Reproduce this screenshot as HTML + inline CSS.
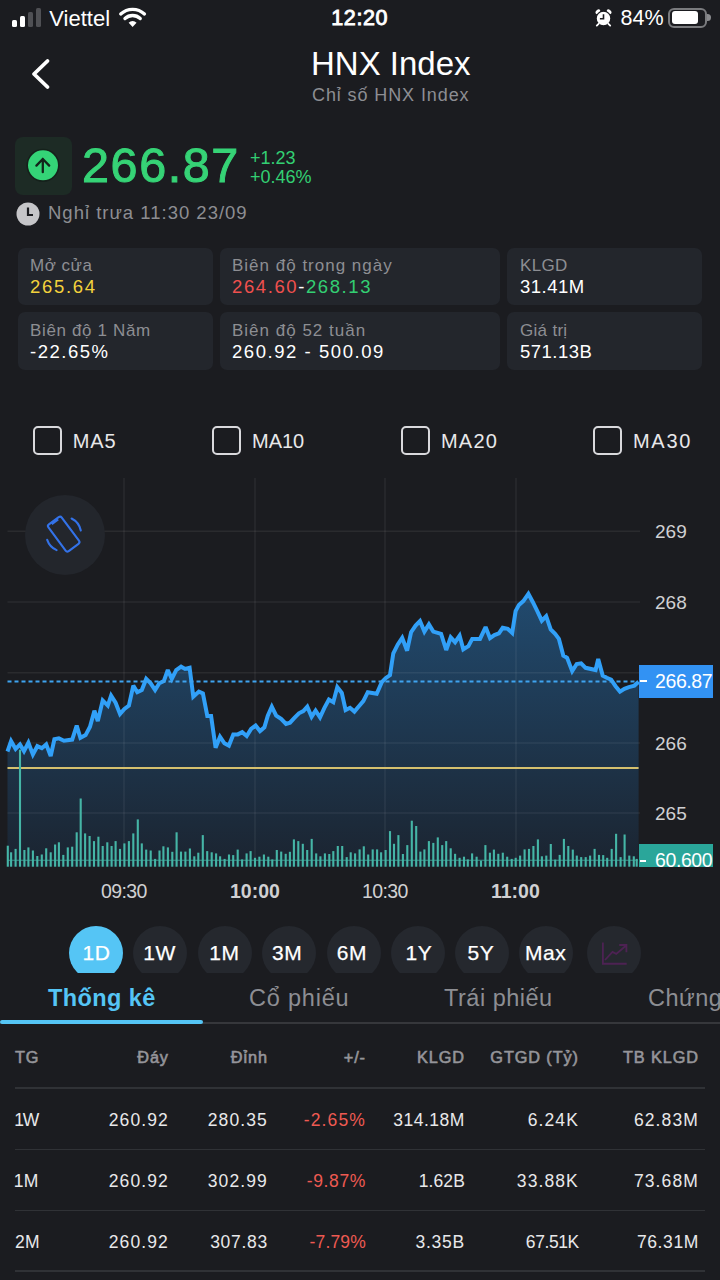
<!DOCTYPE html>
<html><head><meta charset="utf-8">
<style>
*{margin:0;padding:0;box-sizing:border-box}
html,body{width:720px;height:1280px;overflow:hidden;background:#1b1c20}
body{position:relative;font-family:"Liberation Sans",sans-serif;color:#fff}
.t{position:absolute;white-space:nowrap;line-height:1}
.card{position:absolute;background:#23262c;border-radius:7px}
.lbl{color:#8d8e93}
.cb{position:absolute;width:29px;height:29px;border:2px solid #d9d9dc;border-radius:5px}
.circ{position:absolute;top:926px;width:54px;height:54px;border-radius:27px;background:#25282e}
.btxt{position:absolute;top:0;width:54px;text-align:center;font-size:21px;line-height:1}
.th{position:absolute;font-size:16.3px;font-weight:400;-webkit-text-stroke:0.6px #95959a;letter-spacing:0.9px;color:#95959a;line-height:1;white-space:nowrap}
.td{position:absolute;font-size:17.5px;letter-spacing:1.1px;color:#e8e8ea;line-height:1;white-space:nowrap}
.r{text-align:right}
.hl{position:absolute;left:15px;width:690px;height:1.6px;background:#303236}
</style></head>
<body>
<!-- status bar -->
<div style="position:absolute;left:12px;top:20px;width:5.2px;height:7px;background:#fff;border-radius:1.5px"></div>
<div style="position:absolute;left:20px;top:16px;width:5.2px;height:11px;background:#fff;border-radius:1.5px"></div>
<div style="position:absolute;left:28px;top:12.3px;width:5.2px;height:14.7px;background:#4f5054;border-radius:1.5px"></div>
<div style="position:absolute;left:36px;top:8.3px;width:5.2px;height:18.7px;background:#4f5054;border-radius:1.5px"></div>
<div class="t" style="left:49.3px;top:8.1px;font-size:22px">Viettel</div>
<svg style="position:absolute;left:112px;top:2px" width="40" height="30" viewBox="0 0 40 30">
<path d="M20.6 25.0 L16.64 20.74 A5.6 5.6 0 0 1 24.56 20.74 Z" fill="#fff"/>
<path d="M8.73 11.97 A17.4 17.4 0 0 1 32.47 11.97" stroke="#fff" stroke-width="3.3" fill="none" stroke-linecap="round"/>
<path d="M12.96 16.51 A11.2 11.2 0 0 1 28.24 16.51" stroke="#fff" stroke-width="3.3" fill="none" stroke-linecap="round"/>
</svg>
<div class="t" style="left:331.3px;top:8px;font-size:21.5px;font-weight:400;-webkit-text-stroke:0.9px #fff;letter-spacing:0.6px">12:20</div>
<svg style="position:absolute;left:594px;top:8px" width="20" height="20" viewBox="0 0 20 20">
<ellipse cx="3.9" cy="3.7" rx="2.8" ry="1.9" transform="rotate(-40 3.9 3.7)" fill="#fff"/>
<ellipse cx="15.1" cy="3.7" rx="2.8" ry="1.9" transform="rotate(40 15.1 3.7)" fill="#fff"/>
<circle cx="9.5" cy="10.6" r="7.4" fill="#fff" stroke="#1b1c20" stroke-width="1.3"/>
<path d="M4.6 15.8 L2.8 17.6 M14.4 15.8 L16.2 17.6" stroke="#fff" stroke-width="1.8" stroke-linecap="round"/>
<path d="M9.5 6.2 V10.8 H5.9" stroke="#1b1c20" stroke-width="1.6" fill="none"/>
</svg>
<div class="t" style="left:620.5px;top:7.6px;font-size:21.5px">84%</div>
<div style="position:absolute;left:668px;top:7.5px;width:38.5px;height:20px;border:2.2px solid #7a7b7e;border-radius:6px"></div>
<div style="position:absolute;left:671.7px;top:11.2px;width:26.5px;height:13px;background:#fff;border-radius:3px"></div>
<div style="position:absolute;left:707px;top:14.3px;width:3.5px;height:7px;background:#8a8b8e;border-radius:0 4px 4px 0"></div>

<!-- header -->
<svg style="position:absolute;left:28px;top:56px" width="26" height="36" viewBox="0 0 26 36">
<path d="M19.5 5 L6 18 L19.5 31" stroke="#fff" stroke-width="3.8" fill="none" stroke-linecap="round" stroke-linejoin="round"/>
</svg>
<div class="t" style="left:311px;top:47.1px;font-size:33px">HNX Index</div>
<div class="t lbl" style="left:312px;top:86px;font-size:18px;letter-spacing:0.9px">Chỉ số HNX Index</div>

<!-- price -->
<div style="position:absolute;left:14.5px;top:137px;width:57px;height:57.5px;background:#1d2b25;border-radius:8px"></div>
<svg style="position:absolute;left:26px;top:148px" width="34" height="34" viewBox="0 0 34 34">
<circle cx="17" cy="17.3" r="16.6" fill="#15211b"/>
<circle cx="17" cy="17.3" r="15" fill="#34d477"/>
<path d="M16.8 24.2 V11 M10.4 17.6 L16.8 11 L23.2 17.6" stroke="#12241a" stroke-width="2.3" fill="none" stroke-linecap="round" stroke-linejoin="round"/>
</svg>
<div class="t" style="left:82px;top:140.6px;font-size:48.5px;font-weight:400;color:#36d376;-webkit-text-stroke:1px #36d376;letter-spacing:1.6px">266.87</div>
<div class="t" style="left:250px;top:148.6px;font-size:18px;color:#33cf73">+1.23</div>
<div class="t" style="left:250px;top:167.5px;font-size:18px;color:#33cf73">+0.46%</div>
<svg style="position:absolute;left:16px;top:202px" width="24" height="24" viewBox="0 0 24 24">
<circle cx="12" cy="12" r="11.5" fill="#c6c6c9"/>
<path d="M12 5.5 V13 H17" stroke="#1b1c20" stroke-width="2.2" fill="none"/>
</svg>
<div class="t lbl" style="left:48px;top:204px;font-size:18.5px;letter-spacing:1.0px;color:#8d8e93">Nghỉ trưa 11:30 23/09</div>

<!-- cards -->
<div class="card" style="left:18px;top:248px;width:195px;height:57px"></div>
<div class="card" style="left:220px;top:248px;width:280px;height:57px"></div>
<div class="card" style="left:507px;top:248px;width:195px;height:57px"></div>
<div class="card" style="left:18px;top:312px;width:195px;height:58px"></div>
<div class="card" style="left:220px;top:312px;width:280px;height:58px"></div>
<div class="card" style="left:507px;top:312px;width:195px;height:58px"></div>

<div class="t lbl" style="left:30px;top:256.5px;font-size:17px;letter-spacing:0.5px">Mở cửa</div>
<div class="t" style="left:30px;top:277.6px;font-size:18.5px;color:#f3d23c;letter-spacing:1.7px">265.64</div>
<div class="t lbl" style="left:232px;top:256.5px;font-size:17px;letter-spacing:1.0px">Biên độ trong ngày</div>
<div class="t" style="left:232px;top:277.6px;font-size:18.5px;letter-spacing:1.6px"><span style="color:#f0504e">264.60</span>-<span style="color:#33cf73">268.13</span></div>
<div class="t lbl" style="left:520px;top:256.5px;font-size:17px;letter-spacing:0.3px">KLGD</div>
<div class="t" style="left:520px;top:277.6px;font-size:18.5px;letter-spacing:0.5px">31.41M</div>
<div class="t lbl" style="left:30px;top:321.5px;font-size:17px;letter-spacing:0.65px">Biên độ 1 Năm</div>
<div class="t" style="left:30px;top:342.6px;font-size:18.5px;letter-spacing:1.5px">-22.65%</div>
<div class="t lbl" style="left:232px;top:321.5px;font-size:17px;letter-spacing:1.0px">Biên độ 52 tuần</div>
<div class="t" style="left:232px;top:342.6px;font-size:18.5px;letter-spacing:1.55px">260.92 - 500.09</div>
<div class="t lbl" style="left:520px;top:321.5px;font-size:17px;letter-spacing:0.3px">Giá trị</div>
<div class="t" style="left:520px;top:342.6px;font-size:18.5px;letter-spacing:0.5px">571.13B</div>

<!-- MA checkboxes -->
<div class="cb" style="left:33px;top:426px"></div>
<div class="t" style="left:72.8px;top:431.4px;font-size:20px;letter-spacing:0.9px;color:#e8e8ea">MA5</div>
<div class="cb" style="left:212px;top:426px"></div>
<div class="t" style="left:252px;top:431.4px;font-size:20px;color:#e8e8ea">MA10</div>
<div class="cb" style="left:401px;top:426px"></div>
<div class="t" style="left:441px;top:431.4px;font-size:20px;letter-spacing:1.2px;color:#e8e8ea">MA20</div>
<div class="cb" style="left:593px;top:426px"></div>
<div class="t" style="left:633px;top:431.4px;font-size:20px;letter-spacing:1.7px;color:#e8e8ea">MA30</div>

<!-- chart -->
<svg style="position:absolute;left:0;top:0" width="720" height="1280" viewBox="0 0 720 1280">
<defs>
<linearGradient id="g" x1="0" y1="594" x2="0" y2="867" gradientUnits="userSpaceOnUse">
<stop offset="0" stop-color="#214a6e"/>
<stop offset="1" stop-color="#1b2430"/>
</linearGradient>
</defs>
<path d="M7.5,751.5 L11.1,741.1 L15.6,748.9 L20.0,744.4 L24.0,751.1 L28.4,742.7 L32.9,754.4 L37.3,746.2 L41.8,748.2 L46.2,744.4 L50.7,756.0 L54.4,739.3 L58.9,738.4 L64.0,740.7 L72.2,739.6 L76.7,725.6 L80.4,737.8 L85.6,735.1 L90.0,726.7 L94.4,710.7 L97.8,721.1 L102.7,700.4 L107.8,705.6 L111.1,695.6 L115.6,702.7 L120.0,714.0 L124.4,708.9 L128.9,705.6 L133.3,685.6 L137.3,692.2 L141.8,690.0 L146.2,678.9 L150.7,683.3 L155.1,690.0 L159.3,683.3 L163.8,681.1 L167.8,670.0 L171.8,678.9 L176.2,670.0 L181.1,666.7 L185.1,668.9 L189.6,667.8 L193.3,696.7 L198.9,691.6 L202.9,693.3 L207.3,716.0 L211.1,716.0 L215.6,747.8 L220.0,736.7 L224.4,743.3 L228.9,745.6 L233.3,734.4 L237.8,734.4 L242.2,732.2 L246.7,736.0 L251.1,728.9 L255.6,725.6 L260.0,731.1 L264.4,727.3 L267.8,715.6 L271.8,706.7 L276.2,715.6 L281.1,718.9 L286.0,724.0 L290.0,722.7 L294.4,717.8 L298.9,713.3 L303.3,711.1 L307.3,706.7 L311.6,716.7 L315.6,710.7 L320.0,717.3 L324.4,707.8 L328.9,699.6 L333.3,702.2 L337.3,687.1 L341.8,692.9 L345.6,710.0 L350.0,707.8 L354.4,711.6 L358.9,706.2 L363.3,701.1 L367.8,692.2 L376.7,693.8 L381.8,682.2 L385.6,678.2 L390.0,675.1 L393.3,653.3 L397.8,644.4 L402.2,637.8 L407.1,650.7 L411.1,632.2 L415.6,625.6 L420.0,621.1 L424.4,631.6 L428.9,624.4 L433.3,631.6 L441.1,633.8 L446.2,650.0 L450.7,637.3 L455.1,642.2 L459.6,635.6 L463.3,649.3 L468.4,646.2 L472.2,638.9 L480.0,638.9 L485.6,627.1 L490.0,638.2 L494.4,635.1 L498.9,633.3 L502.7,627.8 L507.8,628.9 L512.2,632.9 L515.6,611.1 L518.9,604.9 L523.3,601.1 L528.4,593.8 L532.9,602.2 L537.3,611.1 L541.8,620.7 L546.2,616.2 L550.7,629.3 L555.1,633.8 L558.9,638.9 L563.3,655.6 L567.1,657.8 L572.2,671.1 L576.7,664.0 L581.1,663.3 L585.6,667.8 L595.6,670.0 L598.2,658.9 L602.7,675.6 L606.7,677.8 L611.1,679.6 L615.6,686.2 L620.0,691.6 L624.4,688.9 L628.9,687.1 L634.4,685.6 L638.6,681.8 L638.6,866.7 L7.5,866.7 Z" fill="url(#g)"/>
<g stroke="rgba(255,255,255,0.065)" stroke-width="1.5">
<line x1="7.5" y1="531.3" x2="640" y2="531.3"/>
<line x1="7.5" y1="602" x2="640" y2="602"/>
<line x1="7.5" y1="672.7" x2="640" y2="672.7"/>
<line x1="7.5" y1="743" x2="640" y2="743"/>
<line x1="7.5" y1="813" x2="640" y2="813"/>
<line x1="124" y1="478" x2="124" y2="867"/>
<line x1="255" y1="478" x2="255" y2="867"/>
<line x1="385" y1="478" x2="385" y2="867"/>
<line x1="516" y1="478" x2="516" y2="867"/>
</g>
<line x1="7.5" y1="768" x2="638.6" y2="768" stroke="#d5c06e" stroke-width="2"/>
<g fill="#45b5a6"><rect x="6.75" y="845.7" width="2.1" height="21.0"/><rect x="10.05" y="852.3" width="2.1" height="14.4"/><rect x="14.55" y="848.9" width="2.1" height="17.8"/><rect x="18.95" y="749.7" width="2.1" height="117.0"/><rect x="23.35" y="850.0" width="2.1" height="16.7"/><rect x="27.35" y="847.4" width="2.1" height="19.3"/><rect x="31.85" y="850.5" width="2.1" height="16.2"/><rect x="36.25" y="856.0" width="2.1" height="10.7"/><rect x="40.75" y="854.5" width="2.1" height="12.2"/><rect x="45.15" y="848.3" width="2.1" height="18.4"/><rect x="49.65" y="852.3" width="2.1" height="14.4"/><rect x="54.05" y="844.5" width="2.1" height="22.2"/><rect x="57.85" y="842.3" width="2.1" height="24.4"/><rect x="62.25" y="854.9" width="2.1" height="11.8"/><rect x="66.75" y="847.4" width="2.1" height="19.3"/><rect x="71.15" y="846.7" width="2.1" height="20.0"/><rect x="75.65" y="832.3" width="2.1" height="34.4"/><rect x="79.65" y="798.5" width="2.1" height="68.2"/><rect x="84.05" y="833.4" width="2.1" height="33.3"/><rect x="88.55" y="836.0" width="2.1" height="30.7"/><rect x="92.95" y="841.1" width="2.1" height="25.6"/><rect x="97.35" y="836.7" width="2.1" height="30.0"/><rect x="101.65" y="846.0" width="2.1" height="20.7"/><rect x="106.25" y="842.3" width="2.1" height="24.4"/><rect x="110.55" y="846.0" width="2.1" height="20.7"/><rect x="114.55" y="841.1" width="2.1" height="25.6"/><rect x="118.95" y="848.9" width="2.1" height="17.8"/><rect x="123.35" y="843.4" width="2.1" height="23.3"/><rect x="127.85" y="841.1" width="2.1" height="25.6"/><rect x="132.25" y="833.4" width="2.1" height="33.3"/><rect x="136.75" y="819.4" width="2.1" height="47.3"/><rect x="140.75" y="843.4" width="2.1" height="23.3"/><rect x="145.15" y="849.6" width="2.1" height="17.1"/><rect x="149.65" y="850.5" width="2.1" height="16.2"/><rect x="154.05" y="858.9" width="2.1" height="7.8"/><rect x="158.45" y="850.5" width="2.1" height="16.2"/><rect x="162.35" y="846.3" width="2.1" height="20.4"/><rect x="166.85" y="847.4" width="2.1" height="19.3"/><rect x="171.25" y="851.8" width="2.1" height="14.9"/><rect x="175.55" y="832.3" width="2.1" height="34.4"/><rect x="179.95" y="851.6" width="2.1" height="15.1"/><rect x="184.35" y="851.6" width="2.1" height="15.1"/><rect x="188.85" y="848.5" width="2.1" height="18.2"/><rect x="193.25" y="856.3" width="2.1" height="10.4"/><rect x="197.25" y="852.7" width="2.1" height="14.0"/><rect x="201.75" y="835.1" width="2.1" height="31.6"/><rect x="206.15" y="851.1" width="2.1" height="15.6"/><rect x="210.65" y="852.3" width="2.1" height="14.4"/><rect x="215.05" y="853.4" width="2.1" height="13.3"/><rect x="219.05" y="856.3" width="2.1" height="10.4"/><rect x="223.55" y="858.9" width="2.1" height="7.8"/><rect x="227.95" y="854.5" width="2.1" height="12.2"/><rect x="232.15" y="855.1" width="2.1" height="11.6"/><rect x="236.65" y="849.6" width="2.1" height="17.1"/><rect x="241.05" y="859.4" width="2.1" height="7.3"/><rect x="245.55" y="853.4" width="2.1" height="13.3"/><rect x="249.55" y="851.1" width="2.1" height="15.6"/><rect x="253.95" y="857.8" width="2.1" height="8.9"/><rect x="258.35" y="856.7" width="2.1" height="10.0"/><rect x="262.85" y="854.5" width="2.1" height="12.2"/><rect x="267.25" y="856.7" width="2.1" height="10.0"/><rect x="271.25" y="859.4" width="2.1" height="7.3"/><rect x="275.75" y="850.0" width="2.1" height="16.7"/><rect x="280.15" y="851.6" width="2.1" height="15.1"/><rect x="284.65" y="853.8" width="2.1" height="12.9"/><rect x="288.85" y="851.8" width="2.1" height="14.9"/><rect x="292.85" y="839.4" width="2.1" height="27.3"/><rect x="297.25" y="841.1" width="2.1" height="25.6"/><rect x="301.75" y="843.8" width="2.1" height="22.9"/><rect x="306.15" y="850.0" width="2.1" height="16.7"/><rect x="310.65" y="838.9" width="2.1" height="27.8"/><rect x="315.15" y="853.4" width="2.1" height="13.3"/><rect x="319.35" y="856.3" width="2.1" height="10.4"/><rect x="323.85" y="853.4" width="2.1" height="13.3"/><rect x="328.25" y="854.0" width="2.1" height="12.7"/><rect x="332.25" y="851.1" width="2.1" height="15.6"/><rect x="336.75" y="846.0" width="2.1" height="20.7"/><rect x="341.15" y="846.0" width="2.1" height="20.7"/><rect x="345.65" y="857.1" width="2.1" height="9.6"/><rect x="349.65" y="852.3" width="2.1" height="14.4"/><rect x="354.05" y="853.4" width="2.1" height="13.3"/><rect x="358.55" y="849.4" width="2.1" height="17.3"/><rect x="362.75" y="846.3" width="2.1" height="20.4"/><rect x="367.15" y="854.5" width="2.1" height="12.2"/><rect x="371.65" y="849.4" width="2.1" height="17.3"/><rect x="376.05" y="849.4" width="2.1" height="17.3"/><rect x="380.05" y="852.3" width="2.1" height="14.4"/><rect x="384.55" y="850.0" width="2.1" height="16.7"/><rect x="388.95" y="831.1" width="2.1" height="35.6"/><rect x="392.95" y="843.8" width="2.1" height="22.9"/><rect x="397.35" y="835.1" width="2.1" height="31.6"/><rect x="401.85" y="854.0" width="2.1" height="12.7"/><rect x="406.25" y="845.1" width="2.1" height="21.6"/><rect x="410.75" y="820.7" width="2.1" height="46.0"/><rect x="415.15" y="826.0" width="2.1" height="40.7"/><rect x="419.35" y="851.6" width="2.1" height="15.1"/><rect x="423.35" y="849.4" width="2.1" height="17.3"/><rect x="427.85" y="841.1" width="2.1" height="25.6"/><rect x="432.25" y="842.9" width="2.1" height="23.8"/><rect x="436.75" y="837.4" width="2.1" height="29.3"/><rect x="441.15" y="845.1" width="2.1" height="21.6"/><rect x="445.15" y="841.1" width="2.1" height="25.6"/><rect x="449.65" y="848.3" width="2.1" height="18.4"/><rect x="454.05" y="853.8" width="2.1" height="12.9"/><rect x="458.55" y="857.8" width="2.1" height="8.9"/><rect x="462.95" y="856.7" width="2.1" height="10.0"/><rect x="466.75" y="859.4" width="2.1" height="7.3"/><rect x="471.05" y="853.4" width="2.1" height="13.3"/><rect x="475.55" y="856.7" width="2.1" height="10.0"/><rect x="479.95" y="860.7" width="2.1" height="6.0"/><rect x="484.35" y="845.1" width="2.1" height="21.6"/><rect x="488.85" y="852.7" width="2.1" height="14.0"/><rect x="492.85" y="849.6" width="2.1" height="17.1"/><rect x="497.25" y="853.8" width="2.1" height="12.9"/><rect x="501.75" y="852.7" width="2.1" height="14.0"/><rect x="506.15" y="856.7" width="2.1" height="10.0"/><rect x="510.65" y="858.9" width="2.1" height="7.8"/><rect x="514.65" y="857.8" width="2.1" height="8.9"/><rect x="519.05" y="855.6" width="2.1" height="11.1"/><rect x="523.55" y="849.4" width="2.1" height="17.3"/><rect x="527.95" y="848.9" width="2.1" height="17.8"/><rect x="532.35" y="846.0" width="2.1" height="20.7"/><rect x="536.85" y="839.4" width="2.1" height="27.3"/><rect x="540.85" y="856.3" width="2.1" height="10.4"/><rect x="545.25" y="855.6" width="2.1" height="11.1"/><rect x="549.75" y="844.0" width="2.1" height="22.7"/><rect x="554.15" y="859.6" width="2.1" height="7.1"/><rect x="558.65" y="854.9" width="2.1" height="11.8"/><rect x="562.85" y="838.9" width="2.1" height="27.8"/><rect x="567.25" y="846.0" width="2.1" height="20.7"/><rect x="571.75" y="849.6" width="2.1" height="17.1"/><rect x="575.75" y="855.6" width="2.1" height="11.1"/><rect x="580.15" y="857.1" width="2.1" height="9.6"/><rect x="584.65" y="857.1" width="2.1" height="9.6"/><rect x="589.05" y="855.6" width="2.1" height="11.1"/><rect x="593.55" y="848.9" width="2.1" height="17.8"/><rect x="597.95" y="854.9" width="2.1" height="11.8"/><rect x="602.15" y="855.1" width="2.1" height="11.6"/><rect x="606.15" y="857.8" width="2.1" height="8.9"/><rect x="610.65" y="848.9" width="2.1" height="17.8"/><rect x="615.05" y="833.8" width="2.1" height="32.9"/><rect x="619.55" y="857.1" width="2.1" height="9.6"/><rect x="623.55" y="834.5" width="2.1" height="32.2"/><rect x="628.25" y="855.6" width="2.1" height="11.1"/><rect x="632.75" y="856.3" width="2.1" height="10.4"/><rect x="635.65" y="858.9" width="2.1" height="7.8"/></g>
<line x1="7.5" y1="860.3" x2="638" y2="860.3" stroke="#45b5a6" stroke-width="1.1" stroke-opacity="0.75"/>
<path d="M7.5,751.5 L11.1,741.1 L15.6,748.9 L20.0,744.4 L24.0,751.1 L28.4,742.7 L32.9,754.4 L37.3,746.2 L41.8,748.2 L46.2,744.4 L50.7,756.0 L54.4,739.3 L58.9,738.4 L64.0,740.7 L72.2,739.6 L76.7,725.6 L80.4,737.8 L85.6,735.1 L90.0,726.7 L94.4,710.7 L97.8,721.1 L102.7,700.4 L107.8,705.6 L111.1,695.6 L115.6,702.7 L120.0,714.0 L124.4,708.9 L128.9,705.6 L133.3,685.6 L137.3,692.2 L141.8,690.0 L146.2,678.9 L150.7,683.3 L155.1,690.0 L159.3,683.3 L163.8,681.1 L167.8,670.0 L171.8,678.9 L176.2,670.0 L181.1,666.7 L185.1,668.9 L189.6,667.8 L193.3,696.7 L198.9,691.6 L202.9,693.3 L207.3,716.0 L211.1,716.0 L215.6,747.8 L220.0,736.7 L224.4,743.3 L228.9,745.6 L233.3,734.4 L237.8,734.4 L242.2,732.2 L246.7,736.0 L251.1,728.9 L255.6,725.6 L260.0,731.1 L264.4,727.3 L267.8,715.6 L271.8,706.7 L276.2,715.6 L281.1,718.9 L286.0,724.0 L290.0,722.7 L294.4,717.8 L298.9,713.3 L303.3,711.1 L307.3,706.7 L311.6,716.7 L315.6,710.7 L320.0,717.3 L324.4,707.8 L328.9,699.6 L333.3,702.2 L337.3,687.1 L341.8,692.9 L345.6,710.0 L350.0,707.8 L354.4,711.6 L358.9,706.2 L363.3,701.1 L367.8,692.2 L376.7,693.8 L381.8,682.2 L385.6,678.2 L390.0,675.1 L393.3,653.3 L397.8,644.4 L402.2,637.8 L407.1,650.7 L411.1,632.2 L415.6,625.6 L420.0,621.1 L424.4,631.6 L428.9,624.4 L433.3,631.6 L441.1,633.8 L446.2,650.0 L450.7,637.3 L455.1,642.2 L459.6,635.6 L463.3,649.3 L468.4,646.2 L472.2,638.9 L480.0,638.9 L485.6,627.1 L490.0,638.2 L494.4,635.1 L498.9,633.3 L502.7,627.8 L507.8,628.9 L512.2,632.9 L515.6,611.1 L518.9,604.9 L523.3,601.1 L528.4,593.8 L532.9,602.2 L537.3,611.1 L541.8,620.7 L546.2,616.2 L550.7,629.3 L555.1,633.8 L558.9,638.9 L563.3,655.6 L567.1,657.8 L572.2,671.1 L576.7,664.0 L581.1,663.3 L585.6,667.8 L595.6,670.0 L598.2,658.9 L602.7,675.6 L606.7,677.8 L611.1,679.6 L615.6,686.2 L620.0,691.6 L624.4,688.9 L628.9,687.1 L634.4,685.6 L638.6,681.8" stroke="#31a0f8" stroke-width="4" fill="none" stroke-linejoin="miter" stroke-miterlimit="2.5"/>
<line x1="7.5" y1="681.5" x2="638" y2="681.5" stroke="#3fa3ef" stroke-width="2" stroke-dasharray="4 3"/>
<rect x="640" y="840" width="80" height="27" fill="#1b1c20"/>
</svg>

<div class="t" style="left:655px;top:522px;font-size:19px;color:#d0d0d2">269</div>
<div class="t" style="left:655px;top:593px;font-size:19px;color:#d0d0d2">268</div>
<div class="t" style="left:655px;top:664px;font-size:19px;color:#d0d0d2">267</div>
<div class="t" style="left:655px;top:734px;font-size:19px;color:#d0d0d2">266</div>
<div class="t" style="left:655px;top:804px;font-size:19px;color:#d0d0d2">265</div>
<div style="position:absolute;left:639px;top:665px;width:74px;height:32.5px;background:#3292f3"></div>
<div style="position:absolute;left:640px;top:680.4px;width:6.5px;height:1.6px;background:#fff"></div>
<div class="t" style="left:655px;top:672px;font-size:19.5px;color:#fff;letter-spacing:-0.4px">266.87</div>
<div style="position:absolute;left:639px;top:844px;width:74px;height:23px;background:#2aa69a;overflow:hidden">
<div class="t" style="left:16px;top:7px;font-size:19.5px;color:#fff;letter-spacing:-0.4px">60.600</div>
</div>
<div style="position:absolute;left:640px;top:859.5px;width:6px;height:2px;background:#fff"></div>

<div class="t" style="left:101px;top:882px;font-size:19.5px;color:#d0d0d2;letter-spacing:-0.6px">09:30</div>
<div class="t" style="left:230px;top:882px;font-size:19.5px;font-weight:700;color:#d0d0d2">10:00</div>
<div class="t" style="left:362px;top:882px;font-size:19.5px;color:#d0d0d2;letter-spacing:-0.6px">10:30</div>
<div class="t" style="left:491px;top:882px;font-size:19.5px;font-weight:700;color:#d0d0d2">11:00</div>

<!-- rotate button -->
<div style="position:absolute;left:25px;top:495px;width:80px;height:80px;border-radius:40px;background:#23262c"></div>
<svg style="position:absolute;left:25px;top:495px" width="80" height="80" viewBox="0 0 80 80">
<g transform="rotate(-36.6 38.7 39.1)" stroke="#3372e8" stroke-width="2.1" fill="none">
<rect x="30.4" y="22.5" width="16.6" height="33.2" rx="2.2"/>
<path d="M35 23.8 H43" stroke-width="2.6"/>
</g>
<g stroke="#3372e8" stroke-width="2.1" fill="none" stroke-linecap="round">
<path d="M46.6 23.5 A17.5 17.5 0 0 1 55.8 35.5"/>
<path d="M22.2 44.8 A17.5 17.5 0 0 0 31.6 55.1"/>
</g>
</svg>

<!-- period buttons -->
<div style="position:absolute;left:0;top:0;width:720px;height:973px;overflow:hidden">
<div class="circ" style="left:69px;background:#55c5f5"></div>
<div class="circ" style="left:133px"></div>
<div class="circ" style="left:198px"></div>
<div class="circ" style="left:262px"></div>
<div class="circ" style="left:327px"></div>
<div class="circ" style="left:391px"></div>
<div class="circ" style="left:455px"></div>
<div class="circ" style="left:519px"></div>
<div class="circ" style="left:587px"></div>
</div>
<div class="t" style="left:82.6px;top:941.7px;font-size:21px;letter-spacing:0.6px;-webkit-text-stroke:0.25px #fff">1D</div>
<div class="t" style="left:143.2px;top:941.7px;font-size:21px;letter-spacing:0.6px;-webkit-text-stroke:0.25px #fff">1W</div>
<div class="t" style="left:209.3px;top:941.7px;font-size:21px;letter-spacing:0.6px;-webkit-text-stroke:0.25px #fff">1M</div>
<div class="t" style="left:272.1px;top:941.7px;font-size:21px;letter-spacing:0.6px;-webkit-text-stroke:0.25px #fff">3M</div>
<div class="t" style="left:336.8px;top:941.7px;font-size:21px;letter-spacing:0.6px;-webkit-text-stroke:0.25px #fff">6M</div>
<div class="t" style="left:405.5px;top:941.7px;font-size:21px;letter-spacing:0.6px;-webkit-text-stroke:0.25px #fff">1Y</div>
<div class="t" style="left:467.4px;top:941.7px;font-size:21px;letter-spacing:0.6px;-webkit-text-stroke:0.25px #fff">5Y</div>
<div class="t" style="left:524.9px;top:941.7px;font-size:21px;letter-spacing:0.6px;-webkit-text-stroke:0.25px #fff">Max</div>
<svg style="position:absolute;left:598px;top:940px" width="32" height="28" viewBox="0 0 32 28">
<path d="M4.9 2.5 V23.75 H28.7" stroke="#4d2253" stroke-width="1.8" fill="none"/>
<path d="M7 20 L14.5 11.9 L18.25 13.9 L27.6 6 M21.2 5 H28.4 V12.3" stroke="#4d2253" stroke-width="1.8" fill="none"/>
</svg>

<!-- tabs -->
<div class="t" style="left:48px;top:986.7px;font-size:23.5px;font-weight:700;color:#55c5f5;letter-spacing:0.4px">Thống kê</div>
<div class="t lbl" style="left:249px;top:986.7px;font-size:23.5px;letter-spacing:0.8px">Cổ phiếu</div>
<div class="t lbl" style="left:444px;top:986.7px;font-size:23.5px;letter-spacing:0.5px">Trái phiếu</div>
<div class="t lbl" style="left:648px;top:986.7px;font-size:23.5px;letter-spacing:0.5px">Chứng khoán</div>
<div style="position:absolute;left:0;top:1022px;width:720px;height:2px;background:#36373b"></div>
<div style="position:absolute;left:0;top:1020px;width:203px;height:4px;background:#55c5f5;border-radius:2px"></div>

<!-- table -->
<div class="th" style="left:15px;top:1048.8px">TG</div>
<div class="th r" style="right:551.1px;top:1048.8px">Đáy</div>
<div class="th r" style="right:452.1px;top:1048.8px">Đỉnh</div>
<div class="th r" style="right:354.1px;top:1048.8px">+/-</div>
<div class="th r" style="right:255.1px;top:1048.8px">KLGD</div>
<div class="th r" style="right:141.1px;top:1048.8px">GTGD (Tỷ)</div>
<div class="th r" style="right:21.1px;top:1048.8px">TB KLGD</div>
<div class="hl" style="top:1087px"></div>

<div class="td" style="left:14.3px;top:1112px;letter-spacing:-1.3px">1W</div>
<div class="td r" style="right:551.1px;top:1112px">260.92</div>
<div class="td r" style="right:452.1px;top:1112px">280.35</div>
<div class="td r" style="right:354.1px;top:1112px;color:#ee5a52">-2.65%</div>
<div class="td r" style="right:255.1px;top:1112px;letter-spacing:0.5px">314.18M</div>
<div class="td r" style="right:141.1px;top:1112px">6.24K</div>
<div class="td r" style="right:21.1px;top:1112px">62.83M</div>
<div class="hl" style="top:1148.7px"></div>

<div class="td" style="left:13.8px;top:1173px;letter-spacing:0.2px">1M</div>
<div class="td r" style="right:551.1px;top:1173px">260.92</div>
<div class="td r" style="right:452.1px;top:1173px">302.99</div>
<div class="td r" style="right:354.1px;top:1173px;color:#ee5a52;letter-spacing:0.6px">-9.87%</div>
<div class="td r" style="right:255.1px;top:1173px;letter-spacing:0.1px">1.62B</div>
<div class="td r" style="right:141.1px;top:1173px">33.88K</div>
<div class="td r" style="right:21.1px;top:1173px">73.68M</div>
<div class="hl" style="top:1209.9px"></div>

<div class="td" style="left:15px;top:1234px;letter-spacing:0.2px">2M</div>
<div class="td r" style="right:551.1px;top:1234px">260.92</div>
<div class="td r" style="right:452.1px;top:1234px;letter-spacing:0.7px">307.83</div>
<div class="td r" style="right:354.1px;top:1234px;color:#ee5a52;letter-spacing:0.15px">-7.79%</div>
<div class="td r" style="right:255.1px;top:1234px;letter-spacing:0.75px">3.35B</div>
<div class="td r" style="right:141.1px;top:1234px;letter-spacing:-0.4px">67.51K</div>
<div class="td r" style="right:21.1px;top:1234px;letter-spacing:0.6px">76.31M</div>
<div class="hl" style="top:1270.4px"></div>
</body></html>
